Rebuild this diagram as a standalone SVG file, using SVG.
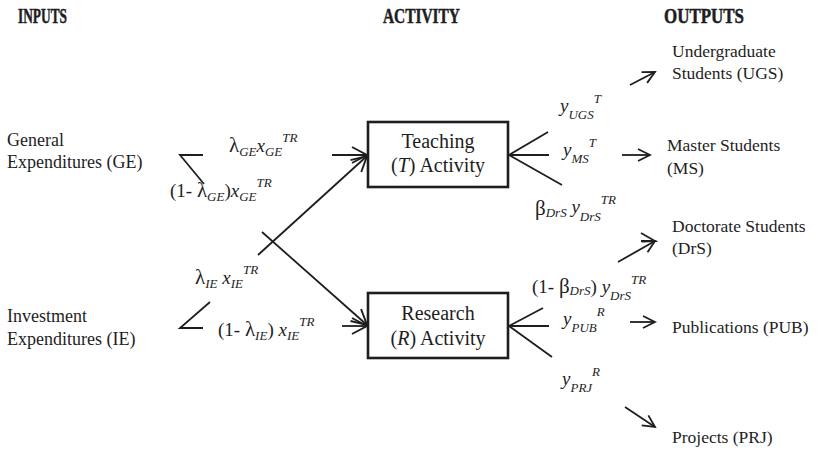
<svg xmlns="http://www.w3.org/2000/svg" width="826" height="452" viewBox="0 0 826 452">
<defs>
<style>
text{font-family:"Liberation Serif","Times New Roman",serif;fill:#1e1e1e}
.h{font-weight:bold;font-size:21px;stroke:#1e1e1e;stroke-width:0.5}
.lbl{font-size:18px}
.out{font-size:17.5px}
.box{font-size:20px;text-anchor:middle}
.m{font-size:19px}
.g{font-size:21px}
.i{font-style:italic}
.s{font-size:13px;font-style:italic}
.line{fill:none;stroke:#1e1e1e;stroke-width:1.8}
.big{marker-end:url(#ah)}
.sml{marker-end:url(#as)}
.node rect{fill:#fff;stroke:#1e1e1e;stroke-width:2.6}
</style>
<marker id="ah" viewBox="-17 -10 19 20" refX="0" refY="0" markerWidth="19" markerHeight="20" markerUnits="userSpaceOnUse" orient="auto">
<path d="M-15,-8 L0,0 L-15,8" fill="none" stroke="#1e1e1e" stroke-width="1.9"/>
</marker>
<marker id="as" viewBox="-14 -8 16 16" refX="0" refY="0" markerWidth="16" markerHeight="16" markerUnits="userSpaceOnUse" orient="auto">
<path d="M-12,-6 L0,0 L-12,6" fill="none" stroke="#1e1e1e" stroke-width="1.8"/>
</marker>
</defs>
<rect width="826" height="452" fill="#fff"/>

<g id="headings">
<text class="h" x="18" y="23" textLength="49" lengthAdjust="spacingAndGlyphs">INPUTS</text>
<text class="h" x="383" y="23" textLength="77" lengthAdjust="spacingAndGlyphs">ACTIVITY</text>
<text class="h" x="664" y="23" textLength="80" lengthAdjust="spacingAndGlyphs">OUTPUTS</text>
</g>

<g id="connectors">
<path class="line" d="M203,155 L180,155 L204,184"/>
<path class="line" d="M203,328 L180,328 L210,302"/>
<line class="line big" x1="332" y1="155" x2="367" y2="155"/>
<line class="line big" x1="258" y1="255" x2="367" y2="156"/>
<line class="line big" x1="262" y1="232" x2="367" y2="325"/>
<line class="line big" x1="342" y1="326" x2="367" y2="326"/>
<path class="line" d="M548,132 L509,155 L549,155 M509,155 L562,185"/>
<path class="line" d="M543,308 L509,326 L549,326 M509,326 L552,357"/>
<line class="line sml" x1="630" y1="85" x2="655" y2="72"/>
<line class="line sml" x1="622" y1="155" x2="650" y2="155"/>
<line class="line sml" x1="618" y1="262" x2="655" y2="241"/>
<path class="line" d="M641,233 L655,241 L641,241"/>
<line class="line sml" x1="630" y1="322" x2="655" y2="322"/>
<line class="line sml" x1="625" y1="407" x2="655" y2="427"/>
</g>

<g id="ge">
<text class="lbl" x="7" y="146">General</text>
<text class="lbl" x="7" y="168">Expenditures (GE)</text>
</g>
<g id="ie">
<text class="lbl" x="7" y="322">Investment</text>
<text class="lbl" x="7" y="345">Expenditures (IE)</text>
</g>

<g id="teaching" class="node">
<rect x="368" y="122" width="140" height="65"/>
<text class="box" x="438" y="148">Teaching</text>
<text class="box" x="438" y="172">(<tspan class="i">T</tspan>) Activity</text>
</g>
<g id="research" class="node">
<rect x="368" y="293" width="140" height="65"/>
<text class="box" x="438" y="320">Research</text>
<text class="box" x="438" y="345">(<tspan class="i">R</tspan>) Activity</text>
</g>

<g id="ugs"><text class="out" x="672" y="57">Undergraduate</text><text class="out" x="672" y="79">Students (UGS)</text></g>
<g id="ms"><text class="out" x="667" y="151">Master Students</text><text class="out" x="667" y="174">(MS)</text></g>
<g id="drs"><text class="out" x="672" y="232">Doctorate Students</text><text class="out" x="672" y="254">(DrS)</text></g>
<g id="pub"><text class="out" x="672" y="333">Publications (PUB)</text></g>
<g id="prj"><text class="out" x="672" y="443">Projects (PRJ)</text></g>

<g id="labels">
<text class="m" x="229" y="152"><tspan class="g">λ</tspan><tspan class="s" dy="4">GE</tspan><tspan class="i" dy="-4">x</tspan><tspan class="s" dy="4">GE</tspan><tspan class="s" dy="-14">TR</tspan></text>
<text class="m" x="170" y="197">(1- <tspan class="g">λ</tspan><tspan class="s" dy="4">GE</tspan><tspan dy="-4">)</tspan><tspan class="i">x</tspan><tspan class="s" dy="4">GE</tspan><tspan class="s" dy="-14">TR</tspan></text>
<text class="m" x="195" y="284"><tspan class="g">λ</tspan><tspan class="s" dy="4">IE</tspan><tspan class="i" dy="-4"> x</tspan><tspan class="s" dy="4">IE</tspan><tspan class="s" dy="-14">TR</tspan></text>
<text class="m" x="218" y="336">(1- <tspan class="g">λ</tspan><tspan class="s" dy="4">IE</tspan><tspan dy="-4">)</tspan><tspan class="i"> x</tspan><tspan class="s" dy="4">IE</tspan><tspan class="s" dy="-14">TR</tspan></text>
<text class="m" x="560" y="112"><tspan class="i">y</tspan><tspan class="s" dy="7">UGS</tspan><tspan class="s" dy="-16">T</tspan></text>
<text class="m" x="563" y="156"><tspan class="i">y</tspan><tspan class="s" dy="7">MS</tspan><tspan class="s" dy="-16">T</tspan></text>
<text class="m" x="535" y="215"><tspan class="g">β</tspan><tspan class="s" dy="2">DrS</tspan><tspan class="i" dy="-4"> y</tspan><tspan class="s" dy="8">DrS</tspan><tspan class="s" dy="-17">TR</tspan></text>
<text class="m" x="532" y="293">(1- <tspan class="g">β</tspan><tspan class="s" dy="2">DrS</tspan><tspan dy="-2">) </tspan><tspan class="i">y</tspan><tspan class="s" dy="7">DrS</tspan><tspan class="s" dy="-16">TR</tspan></text>
<text class="m" x="563" y="325"><tspan class="i">y</tspan><tspan class="s" dy="7">PUB</tspan><tspan class="s" dy="-16">R</tspan></text>
<text class="m" x="562" y="385"><tspan class="i">y</tspan><tspan class="s" dy="7">PRJ</tspan><tspan class="s" dy="-16">R</tspan></text>
</g>
</svg>
